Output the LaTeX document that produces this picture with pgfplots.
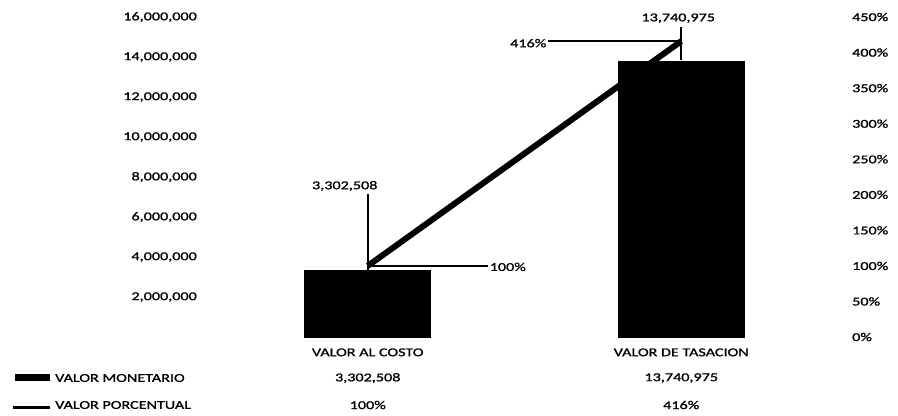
\documentclass[border=0pt]{standalone}
\usepackage{pgfplots}
\pgfplotsset{compat=1.18}
\usepackage{fontspec}
\setmainfont{Carlito}[FakeStretch=1.35, FakeBold=1.2]
\newcommand\fnt{\fontsize{12}{14}\selectfont}
\begin{document}
\fnt
\begin{tikzpicture}
\begin{axis}[
  scale only axis, width=627bp, height=320bp, clip=false,
  xmin=-0.5, xmax=1.5, ymin=0, ymax=16000000,
  axis line style={draw=none}, tick style={draw=none},
  xtick={0,1}, xticklabels={VALOR AL COSTO, VALOR DE TASACION},
  xticklabel style={yshift=-3bp},
  ytick={2000000,4000000,...,16000000},
  scaled y ticks=false,
  /pgf/number format/fixed,
  /pgf/number format/1000 sep={,},
  /pgf/number format/assume math mode=true,
  yticklabel style={xshift=-10bp},
  ybar, bar width=0.4,
  font=\fnt,
]
\addplot[fill=black, draw=black, line width=2bp] coordinates {(0,3302508) (1,13740975)};
\coordinate (b0) at (axis cs:0,0);
\coordinate (b1) at (axis cs:1,0);
\coordinate (t1) at (axis cs:1,13740975);
\end{axis}
\begin{axis}[
  scale only axis, width=627bp, height=320bp, clip=false,
  xmin=-0.5, xmax=1.5, ymin=0, ymax=450,
  axis line style={draw=none}, tick style={draw=none},
  xtick=\empty,
  axis y line*=right,
  ytick={0,50,...,450},
  yticklabel={\pgfmathprintnumber{\tick}\%},
  yticklabel style={xshift=10bp},
  /pgf/number format/assume math mode=true,
  font=\fnt,
]
\addplot[black, line width=6bp] coordinates {(0,100) (1,416)};
\coordinate (p0) at (axis cs:0,100);
\coordinate (p1) at (axis cs:1,416);
\end{axis}
% leaders and data labels
\draw[line width=1.8bp] ([yshift=72bp]p0) -- ([yshift=-5bp]p0);
\node at ([shift={(-23bp,80bp)}]p0) {3,302,508};
\draw[line width=1.8bp] ([xshift=4bp]p0) -- ([xshift=120bp]p0);
\node at ([shift={(140bp,-1bp)}]p0) {100\%};
\draw[line width=1.8bp] ([yshift=14bp]p1) -- ([yshift=2bp]t1);
\node at ([shift={(-3bp,23bp)}]p1) {13,740,975};
\draw[line width=1.8bp] (p1) -- ([xshift=-133bp]p1);
\node at ([shift={(-153bp,-2bp)}]p1) {416\%};
% data table
\node at ([yshift=-41bp]b0) {3,302,508};
\node at ([yshift=-41bp]b1) {13,740,975};
\node at ([yshift=-68bp]b0) {100\%};
\node at ([yshift=-68bp]b1) {416\%};
\fill[black] (-196bp,-37bp) rectangle (-161bp,-44bp);
\node[anchor=west, inner sep=0pt] at (-156bp,-41bp) {VALOR MONETARIO};
\draw[black, line width=3bp] (-198bp,-70bp) -- (-161bp,-70bp);
\node[anchor=west, inner sep=0pt] at (-156bp,-68bp) {VALOR PORCENTUAL};
\pgfresetboundingbox
\path[use as bounding box] (-211bp,-79bp) rectangle (687bp,337bp);
\end{tikzpicture}
\end{document}
